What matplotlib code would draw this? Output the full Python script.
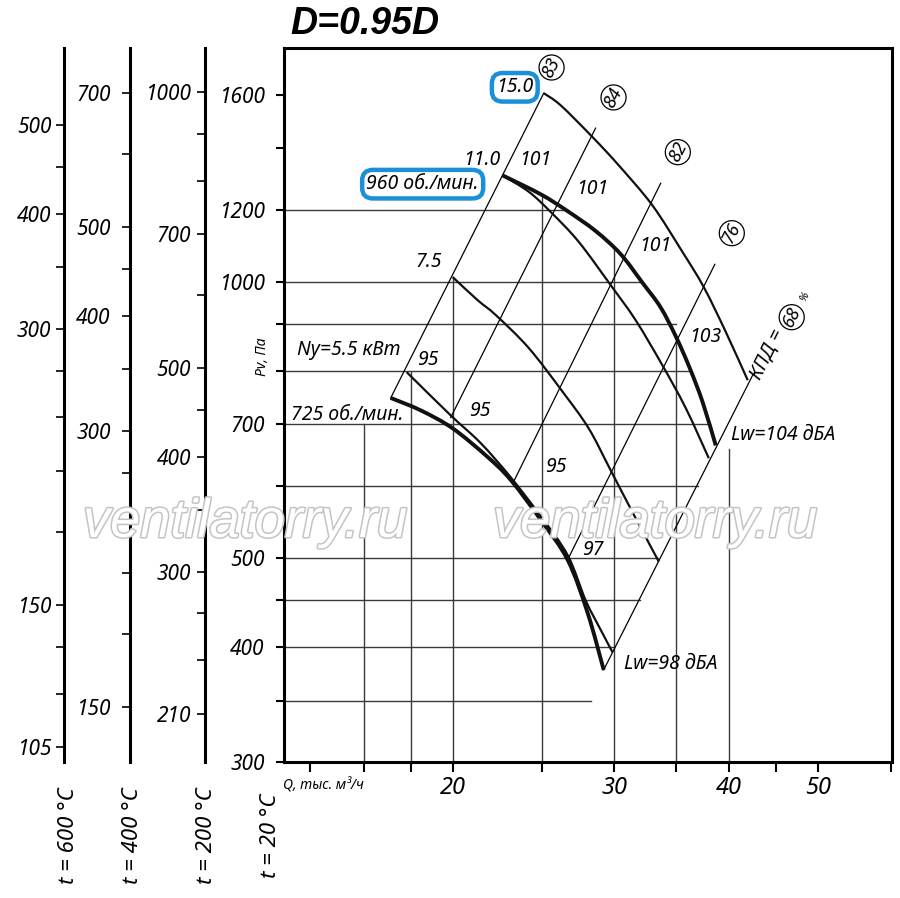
import matplotlib
matplotlib.use('Agg')
import numpy as np
import matplotlib.pyplot as plt
import matplotlib.patheffects as pe
from matplotlib.path import Path
from matplotlib.patches import PathPatch
from matplotlib.ticker import NullLocator, FixedLocator, FixedFormatter

plt.rcParams['font.family'] = ['Noto Sans', 'DejaVu Sans']
plt.rcParams['font.style'] = 'italic'

# характеристики вентилятора: Q, тыс. м3/ч  и  Pv, Па
q_15 = [25.13, 26.22, 28.41, 30.33, 33.0, 35.59, 37.54, 39.67, 41.92]
p_15 = [1607, 1559, 1439, 1341, 1213, 1079, 988, 883, 782]
q_960 = [22.65, 24.94, 26.69, 28.63, 30.48, 32.21, 33.69, 35.0, 36.25, 37.44, 38.69]
p_960 = [1308, 1247, 1195, 1137, 1073, 998, 939, 873, 806, 740, 664]
q_11 = [22.65, 24.20, 25.57, 27.43, 29.72, 31.65, 33.84, 35.89, 38.02]
p_11 = [1308, 1255, 1193, 1107, 993, 909, 812, 729, 643]
q_75 = [20.0, 21.29, 22.28, 24.20, 26.34, 28.13, 29.72, 31.65, 33.54]
p_75 = [1013, 956, 921, 848, 760, 693, 624, 553, 496]
q_55 = [17.82, 19.90, 21.45, 23.13, 24.94, 26.69, 27.92, 28.99, 29.87]
p_55 = [798, 716, 668, 613, 556, 504, 450, 418, 395]
q_725 = [17.12, 18.46, 20.0, 21.83, 23.13, 24.94, 26.69, 28.06, 29.21]
p_725 = [748, 725, 693, 645, 609, 551, 498, 436, 378]

# лучи КПД (концы отрезков)
eff_names = ['83', '84', '82', '76', '68']
eff_q = [(17.12, 25.13), (19.9, 28.62), (23.3, 33.7), (26.7, 38.6), (29.21, 42.5)]
eff_p = [(748, 1607), (712, 1472), (606, 1282), (499, 1046), (378, 794)]

# сетка (частичные линии)
hgrid_p = [350, 400, 450, 500, 600, 700, 800, 900, 1000, 1200]
hgrid_q_end = [28.3, 29.9, 32.0, 33.5, 37.0, 38.1, 36.2, 35.0, 32.2, 26.7]
vgrid_q = [16, 18, 20, 25, 30, 35, 40]
vgrid_p_top = [700, 798, 1013, 1247, 1089, 869, 658]

# оси
x_ticks = [14, 16, 18, 20, 25, 30, 35, 40, 45, 50, 60]
x_labels = ['', '', '', '20', '', '30', '', '40', '', '50', '']
y_ticks = [300, 350, 400, 450, 500, 600, 700, 800, 900, 1000, 1200, 1400, 1600]
y_labels = ['300', '', '400', '', '500', '', '700', '', '', '1000', '1200', '', '1600']

# шкалы давления для других температур
t_names = ['t = 600 °C', 't = 400 °C', 't = 200 °C']
t_ratio = [0.337, 0.4354, 0.62]
t_ticks = [[105, 120, 135, 150, 180, 210, 240, 270, 300, 350, 400, 450, 500],
           [150, 180, 210, 240, 270, 300, 350, 400, 450, 500, 600, 700],
           [210, 240, 270, 300, 350, 400, 450, 500, 600, 700, 800, 900, 1000]]
t_shown = [[105, 150, 300, 400, 500],
           [150, 300, 400, 500, 700],
           [210, 300, 400, 500, 700, 1000]]


def smooth_curve(ax, q, p, **kw):
    # кривая Безье через точки (в логарифмах)
    pts = np.column_stack([np.log10(q), np.log10(p)])
    ext = np.vstack([pts[0], pts, pts[-1]])
    verts = [pts[0]]
    codes = [Path.MOVETO]
    for i in range(len(pts) - 1):
        p0, p1, p2, p3 = ext[i], ext[i + 1], ext[i + 2], ext[i + 3]
        verts += [p1 + (p2 - p0) / 6, p2 - (p3 - p1) / 6, p2]
        codes += [Path.CURVE4] * 3
    path = Path(10 ** np.array(verts), codes)
    ax.add_patch(PathPatch(path, fill=False, capstyle='butt', joinstyle='round', **kw))


W, H = 900, 898
fig = plt.figure(figsize=(9, 8.98), dpi=100)
bottom = 1 - 762 / H
height = 714 / H
ax = fig.add_axes([284 / W, bottom, 608 / W, height])
ax.set_xscale('log')
ax.set_yscale('log')
ax.set_xlim(13.1, 60.2)
ax.set_ylim(300, 1800)
for s in ax.spines.values():
    s.set_linewidth(2.2)
ax.xaxis.set_minor_locator(NullLocator())
ax.yaxis.set_minor_locator(NullLocator())
ax.xaxis.set_major_locator(FixedLocator(x_ticks))
ax.xaxis.set_major_formatter(FixedFormatter(x_labels))
ax.yaxis.set_major_locator(FixedLocator(y_ticks))
ax.yaxis.set_major_formatter(FixedFormatter(y_labels))
ax.tick_params(axis='x', direction='out', length=7, width=1.5, labelsize=17, pad=3)
ax.tick_params(axis='y', direction='out', length=6, width=1.5, labelsize=15, pad=8)

grid_c = '#3a3a3a'
for p, qe in zip(hgrid_p, hgrid_q_end):
    ax.plot([13.1, qe], [p, p], color=grid_c, lw=1.0, zorder=1)
for q, pt in zip(vgrid_q, vgrid_p_top):
    ax.plot([q, q], [300, pt], color=grid_c, lw=1.0, zorder=1)

for qs, ps in zip(eff_q, eff_p):
    ax.plot(qs, ps, color='black', lw=0.9, zorder=2)

for qs, ps in [(q_15, p_15), (q_11, p_11), (q_75, p_75), (q_55, p_55)]:
    smooth_curve(ax, qs, ps, edgecolor='#111111', lw=1.6, zorder=3)
for qs, ps in [(q_960, p_960), (q_725, p_725)]:
    smooth_curve(ax, qs, ps, edgecolor='#111111', lw=2.8, zorder=4)

# подписи на поле графика
fs = 14
blue = '#1b8fd9'
ax.text(23.37, 1631, '15.0', fontsize=fs, ha='center', va='center', zorder=6,
        bbox=dict(boxstyle='round,pad=0.22,rounding_size=0.55', fc='white', ec=blue, lw=3.2))
ax.text(18.55, 1279, '960 об./мин.', fontsize=fs, ha='center', va='center', zorder=6,
        bbox=dict(boxstyle='round,pad=0.22,rounding_size=0.55', fc='white', ec=blue, lw=3.2))
ax.text(21.51, 1358, '11.0', fontsize=fs, ha='center', va='center')
ax.text(24.63, 1358, '101', fontsize=fs, ha='center', va='center')
ax.text(28.41, 1263, '101', fontsize=fs, ha='center', va='center')
ax.text(33.28, 1095, '101', fontsize=fs, ha='center', va='center')
ax.text(37.73, 872, '103', fontsize=fs, ha='center', va='center')
ax.text(18.83, 1052, '7.5', fontsize=fs, ha='center', va='center')
ax.text(15.41, 843, 'Ny=5.5 кВт', fontsize=fs, ha='center', va='center')
ax.text(18.78, 822, '95', fontsize=fs, ha='center', va='center')
ax.text(21.40, 724, '95', fontsize=fs, ha='center', va='center')
ax.text(25.89, 629, '95', fontsize=fs, ha='center', va='center')
ax.text(28.41, 511, '97', fontsize=fs, ha='center', va='center')
ax.text(15.37, 716, '725 об./мин.', fontsize=fs, ha='center', va='center')
ax.text(30.71, 384, 'Lw=98 дБА', fontsize=fs, ha='left', va='center')
ax.text(40.18, 681, 'Lw=104 дБА', fontsize=fs, ha='left', va='center')

ang = 63.4
circ_q = [25.63, 29.94, 35.18, 40.28, 46.81]
circ_p = [1714, 1590, 1386, 1131, 916]
for name, q, p in zip(eff_names, circ_q, circ_p):
    ax.text(q, p, name, fontsize=13, rotation=ang, ha='center', va='center',
            rotation_mode='anchor',
            bbox=dict(boxstyle='circle,pad=0.14', fc='white', ec='black', lw=0.9))
ax.text(44.0, 835, 'КПД =', fontsize=14, rotation=ang, ha='center', va='center',
        rotation_mode='anchor')
ax.text(48.4, 965, '%', fontsize=8, rotation=ang, ha='center', va='center',
        rotation_mode='anchor')

# шкалы температур
t_x = [64, 130, 205]
t_pad = [3, 8, 4]
for xp, r, tk, shown, pad in zip(t_x, t_ratio, t_ticks, t_shown, t_pad):
    a = fig.add_axes([xp / W, bottom, 0.0001, height])
    a.patch.set_visible(False)
    a.set_yscale('log')
    a.set_ylim(300 * r, 1800 * r)
    for s in ['top', 'right', 'bottom']:
        a.spines[s].set_visible(False)
    a.spines['left'].set_linewidth(2.2)
    a.set_xticks([])
    a.yaxis.set_minor_locator(NullLocator())
    a.yaxis.set_major_locator(FixedLocator(tk))
    a.yaxis.set_major_formatter(FixedFormatter([str(v) if v in shown else '' for v in tk]))
    a.tick_params(axis='y', direction='out', length=6, width=1.2, labelsize=15, pad=pad)

for name, xp in zip(t_names + ['t = 20 °C'], [68, 132, 206, 271]):
    fig.text(xp / W, 1 - 836 / H, name, rotation=90, fontsize=16, ha='center', va='center')

fig.text(283 / W, 1 - 786 / H, 'Q, тыс. м³/ч', fontsize=10, ha='left', va='center')
fig.text(262 / W, 1 - 357 / H, 'Pv, Па', fontsize=10, rotation=90, ha='center', va='center')
fig.text(290 / W, 1 - 24 / H, 'D=0.95D', fontsize=27, weight='bold',
         family=['Liberation Sans', 'DejaVu Sans'], ha='left', va='center')

# водяной знак
for xc in [245, 655]:
    fig.text(xc / W, 1 - 523 / H, 'ventilatorry.ru', fontsize=39, family='Liberation Sans',
             style='italic', color='white', ha='center', va='center', zorder=10,
             path_effects=[pe.Stroke(linewidth=2.2, foreground='#c4c4c4'), pe.Normal()])

fig.savefig('out.png', dpi=100)
